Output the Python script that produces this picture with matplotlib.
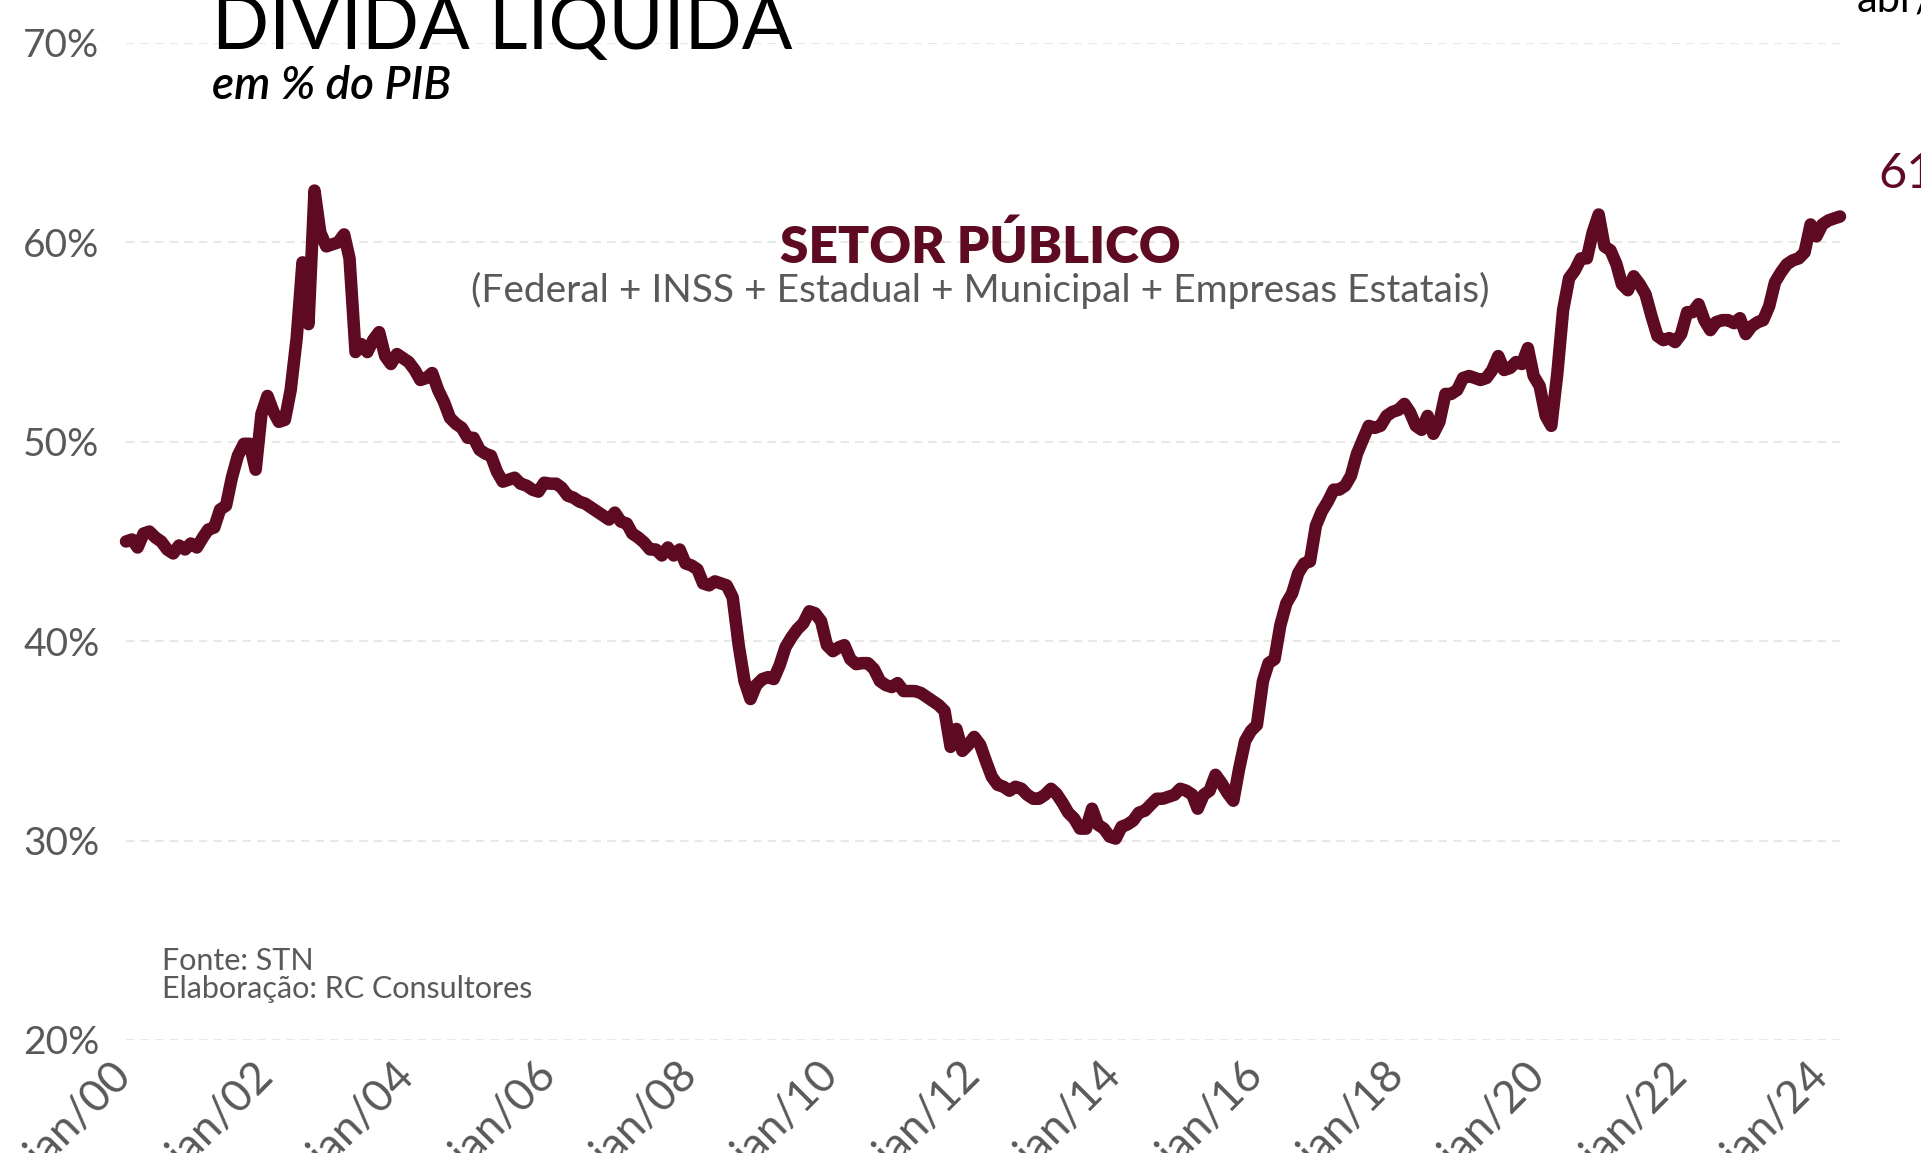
import matplotlib
matplotlib.use("Agg")
import matplotlib.pyplot as plt
import pandas as pd

# Dívida líquida do setor público, % do PIB (mensal, jan/2000 - abr/2024)
start = "2000-01-01"
dlsp = [
    45.0, 45.1, 44.7, 45.4, 45.5, 45.2, 45.0, 44.6, 44.4, 44.8, 44.6, 44.9,
    44.7, 45.2, 45.6, 45.7, 46.6, 46.8, 48.2, 49.3, 49.9, 49.9, 48.6, 51.4,
    52.3, 51.5, 51.0, 51.1, 52.6, 55.2, 59.0, 55.9, 62.6, 60.5, 59.8, 59.9,
    60.0, 60.4, 59.2, 54.5, 54.9, 54.5, 55.1, 55.5, 54.3, 53.9, 54.4, 54.2,
    54.0, 53.6, 53.1, 53.2, 53.45, 52.6, 52.0, 51.2, 50.9, 50.7, 50.2, 50.2,
    49.6, 49.4, 49.3, 48.5, 48.0, 48.1, 48.2, 47.9, 47.8, 47.6, 47.5, 47.95,
    47.9, 47.9, 47.7, 47.3, 47.2, 47.0, 46.9, 46.7, 46.5, 46.3, 46.1, 46.45,
    46.0, 45.9, 45.4, 45.2, 44.95, 44.6, 44.6, 44.3, 44.7, 44.3, 44.6, 43.9,
    43.8, 43.6, 42.9, 42.8, 43.0, 42.9, 42.8, 42.2, 39.8, 38.0, 37.1, 37.8,
    38.1, 38.2, 38.1, 38.8, 39.7, 40.2, 40.6, 40.9, 41.5, 41.4, 41.0, 39.8,
    39.5, 39.7, 39.8, 39.1, 38.85, 38.9, 38.9, 38.6, 38.0, 37.8, 37.7, 37.9,
    37.5, 37.5, 37.5, 37.4, 37.2, 37.0, 36.8, 36.5, 34.7, 35.6, 34.5, 34.8,
    35.2, 34.8, 34.0, 33.2, 32.8, 32.7, 32.5, 32.7, 32.6, 32.3, 32.1, 32.1,
    32.3, 32.6, 32.35, 31.9, 31.4, 31.1, 30.6, 30.6, 31.6, 30.8, 30.6, 30.2,
    30.1, 30.7, 30.8, 31.0, 31.4, 31.5, 31.8, 32.1, 32.1, 32.2, 32.3, 32.6,
    32.5, 32.3, 31.6, 32.3, 32.5, 33.3, 32.9, 32.4, 32.0, 33.6, 35.0, 35.5,
    35.8, 38.0, 38.9, 39.1, 40.8, 41.9, 42.4, 43.4, 43.9, 44.0, 45.8, 46.5,
    47.0, 47.6, 47.6, 47.8, 48.3, 49.4, 50.1, 50.8, 50.7, 50.8, 51.3, 51.5,
    51.6, 51.9, 51.5, 50.8, 50.6, 51.3, 50.4, 51.0, 52.4, 52.4, 52.6, 53.2,
    53.3, 53.2, 53.1, 53.2, 53.6, 54.3, 53.6, 53.7, 54.0, 53.9, 54.7, 53.3,
    52.8, 51.3, 50.8, 53.4, 56.6, 58.2, 58.6, 59.2, 59.2, 60.5, 61.4, 59.8,
    59.6, 58.9, 57.9, 57.6, 58.3, 57.9, 57.4, 56.3, 55.3, 55.1, 55.2, 55.0,
    55.4, 56.5, 56.5, 56.9, 56.1, 55.6, 56.0, 56.1, 56.1, 55.95, 56.2, 55.4,
    55.8, 56.0, 56.1, 56.8, 58.0, 58.5, 58.9, 59.1, 59.2, 59.5, 60.9, 60.3,
    60.9, 61.1, 61.2, 61.3,
]
y_ticks = [20, 30, 40, 50, 60, 70]
x_tick_years = list(range(2000, 2025, 2))

MAROON = "#5e0a22"
GREY = "#595959"

dates = pd.date_range(start, periods=len(dlsp), freq="MS")

W, H = 1921, 1153
fig = plt.figure(figsize=(W / 100, H / 100), dpi=100)
fig.patch.set_facecolor("white")
ax = fig.add_axes([126 / W, 1 - 1040 / H, (1840 - 126) / W, (1040 - 43) / H])

ax.plot(dates, dlsp, color=MAROON, lw=9, solid_joinstyle="round",
        solid_capstyle="round", zorder=3, clip_on=False)

ax.set_ylim(20, 70)
ax.set_xlim(dates[0], dates[-1])
ax.set_yticks(y_ticks)
ax.set_yticklabels([f"{v}%" for v in y_ticks], family="Lato", fontsize=28, color=GREY)
ax.grid(axis="y", color="#e8e8e8", lw=1.5, ls=(0, (4, 3)), zorder=0)
ax.tick_params(axis="y", length=0, pad=19)

xt = [pd.Timestamp(f"{y}-01-01") for y in x_tick_years]
ax.set_xticks(xt)
ax.set_xticklabels([f"jan/{str(y)[2:]}" for y in x_tick_years], family="Lato",
                   fontsize=32, color=GREY, rotation=45, ha="right", va="center",
                   rotation_mode="anchor")
ax.tick_params(axis="x", length=0, pad=22)
for s in ax.spines.values():
    s.set_visible(False)

# textos
fig.text(212 / W, 1 - 49 / H, "DÍVIDA LÍQUIDA", family="Lato", fontsize=54,
         color="black", va="baseline", ha="left")
fig.text(212 / W, 1 - 99 / H, "em % do PIB", family="Lato", style="italic",
         weight="semibold", fontsize=33, color="black", va="baseline", ha="left")
fig.text(980 / W, 1 - 263 / H, "SETOR PÚBLICO", family="Lato", weight="heavy",
         fontsize=37, color=MAROON, va="baseline", ha="center")
fig.text(980 / W, 1 - 302 / H, "(Federal + INSS + Estadual + Municipal + Empresas Estatais)",
         family="Lato", fontsize=28, color=GREY, va="baseline", ha="center")
fig.text(162 / W, 1 - 970 / H, "Fonte: STN", family="Lato", fontsize=22,
         color=GREY, va="baseline", ha="left")
fig.text(162 / W, 1 - 998 / H, "Elaboração: RC Consultores", family="Lato",
         fontsize=22, color=GREY, va="baseline", ha="left")

last = dlsp[-1]
fig.text(1878 / W, 1 - 187 / H, f"{last:.1f}%".replace(".", ","), family="Lato",
         fontsize=35, color=MAROON, va="baseline", ha="left")
fig.text(1857 / W, 1 - 11 / H, f"abr/{str(dates[-1].year)[2:]}", family="Lato",
         fontsize=30, color="black", va="baseline", ha="left")

fig.savefig("out.png", dpi=100, facecolor="white")
